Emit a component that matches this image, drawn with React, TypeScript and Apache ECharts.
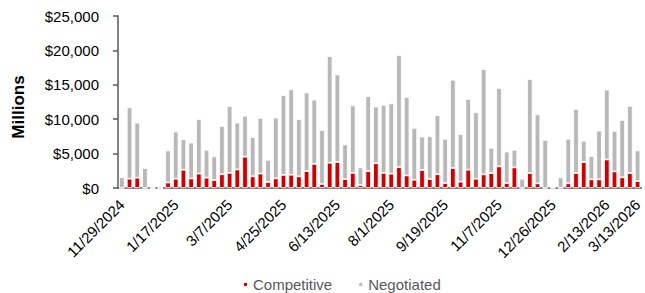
import React, { useEffect, useRef } from "react";
import * as echarts from "echarts";

const weeks: string[] = [
  "11/29/2024", "12/6/2024", "12/13/2024", "12/20/2024", "12/27/2024",
  "1/3/2025", "1/10/2025", "1/17/2025", "1/24/2025", "1/31/2025",
  "2/7/2025", "2/14/2025", "2/21/2025", "2/28/2025",
  "3/7/2025", "3/14/2025", "3/21/2025", "3/28/2025",
  "4/4/2025", "4/11/2025", "4/18/2025", "4/25/2025",
  "5/2/2025", "5/9/2025", "5/16/2025", "5/23/2025", "5/30/2025",
  "6/6/2025", "6/13/2025", "6/20/2025", "6/27/2025",
  "7/4/2025", "7/11/2025", "7/18/2025", "7/25/2025",
  "8/1/2025", "8/8/2025", "8/15/2025", "8/22/2025", "8/29/2025",
  "9/5/2025", "9/12/2025", "9/19/2025", "9/26/2025",
  "10/3/2025", "10/10/2025", "10/17/2025", "10/24/2025", "10/31/2025",
  "11/7/2025", "11/14/2025", "11/21/2025", "11/28/2025",
  "12/5/2025", "12/12/2025", "12/19/2025", "12/26/2025",
  "1/2/2026", "1/9/2026", "1/16/2026", "1/23/2026", "1/30/2026",
  "2/6/2026", "2/13/2026", "2/20/2026", "2/27/2026", "3/6/2026", "3/13/2026",
];

const competitive: number[] = [
  0, 1350, 1500, 0, 0, 0, 800, 1350, 2650, 1400,
  2100, 1500, 1150, 2000, 2200, 2700, 4550, 1700, 2100, 870,
  1400, 1900, 1930, 1700, 2460, 3500, 580, 3670, 3770, 1300,
  2200, 430, 2460, 3600, 2200, 2080, 3040, 1830, 1200, 2600,
  1300, 2000, 720, 2900, 920, 2660, 1350, 1980, 2170, 3140,
  720, 3000, 0, 2170, 680, 0, 0, 0, 680, 2170,
  3770, 1260, 1260, 4150, 2410, 1550, 2170, 1000,
];

const negotiated: number[] = [
  1600, 10380, 8000, 2900, 0, 0, 4660, 6850, 4450, 5200,
  7900, 4050, 3450, 7000, 9700, 6800, 5950, 5700, 8100, 3230,
  8840, 11600, 12410, 8300, 11440, 9340, 7820, 15500, 12730, 5030,
  9800, 2570, 10910, 8230, 9870, 10220, 16260, 11400, 7540, 4880,
  6230, 8600, 6430, 12840, 6900, 10280, 9650, 15310, 3670, 11390,
  4580, 2550, 1350, 13670, 10020, 7000, 200, 1550, 6470, 9330,
  3090, 3380, 7090, 10150, 5890, 8350, 9760, 4460,
];

const yTicks: number[] = [0, 5000, 10000, 15000, 20000, 25000];

const FONT = "'Liberation Sans', Arial, sans-serif";

export default function App() {
  const ref = useRef<HTMLDivElement>(null);

  useEffect(() => {
    if (!ref.current) return;
    const chart = echarts.init(ref.current, undefined, { renderer: "svg" });
    const lastIdx = weeks.length - 1;
    chart.setOption({
      animation: false,
      textStyle: { fontFamily: FONT },
      grid: { left: 118, right: 2, top: 16, bottom: 105, containLabel: false },
      legend: {
        data: ["Competitive", "Negotiated"],
        top: 272,
        left: 237,
        icon: "rect",
        itemWidth: 5,
        itemHeight: 5,
        itemGap: 25,
        textStyle: { color: "#595959", fontSize: 15, fontFamily: FONT, padding: [0, 0, 0, 0] },
      },
      graphic: [
        {
          type: "text",
          x: 18,
          y: 107,
          rotation: Math.PI / 2,
          style: {
            text: "Millions",
            font: `bold 17px ${FONT}`,
            fill: "#000",
            align: "center",
            verticalAlign: "middle",
          },
        },
      ],
      xAxis: {
        type: "category",
        data: weeks,
        boundaryGap: true,
        axisLine: { lineStyle: { color: "#595959", width: 1.5 } },
        axisTick: { interval: 3, length: 5, lineStyle: { color: "#595959", width: 1.5 } },
        axisLabel: {
          interval: (i: number) => i % 7 === 0 || i === lastIdx,
          rotate: 45,
          fontSize: 15,
          color: "#000",
          margin: 14,
          fontFamily: FONT,
        },
      },
      yAxis: {
        type: "value",
        min: yTicks[0],
        max: yTicks[yTicks.length - 1],
        interval: 5000,
        splitLine: { show: false },
        axisLine: { show: true, lineStyle: { color: "#595959", width: 1.5 } },
        axisTick: { show: true, length: 5, lineStyle: { color: "#595959", width: 1.5 } },
        axisLabel: {
          fontSize: 15,
          color: "#000",
          margin: 19,
          fontFamily: FONT,
          formatter: (v: number) => "$" + v.toLocaleString("en-US"),
        },
      },
      series: [
        {
          name: "Competitive",
          type: "bar",
          stack: "total",
          data: competitive,
          barWidth: 5.5,
          itemStyle: { color: "#D00000", borderColor: "#fff", borderWidth: 0.8 },
        },
        {
          name: "Negotiated",
          type: "bar",
          stack: "total",
          data: negotiated,
          barWidth: 5.5,
          itemStyle: { color: "#B8B8B8", borderColor: "#fff", borderWidth: 0.8 },
        },
      ],
    });
    return () => chart.dispose();
  }, []);

  return (
    <div
      ref={ref}
      style={{ position: "fixed", left: 0, top: 0, width: 645, height: 293, background: "#fff" }}
    />
  );
}
